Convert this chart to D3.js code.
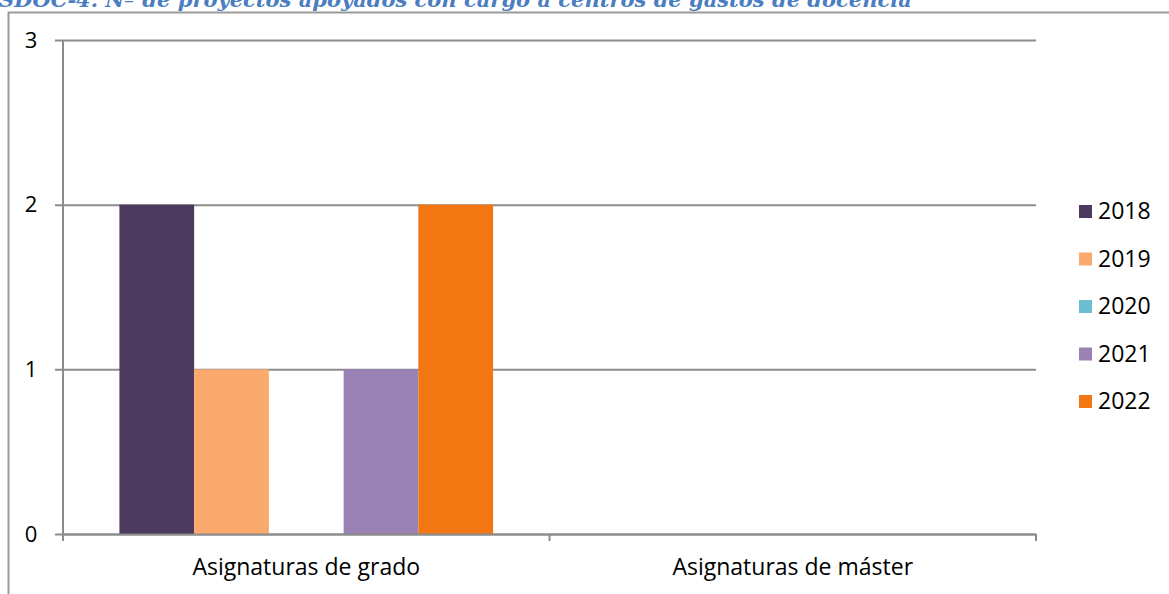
<!DOCTYPE html>
<html><head><meta charset="utf-8">
<script src="https://cdn.jsdelivr.net/npm/d3@7"></script>
<style>body{margin:0;background:#fff;overflow:hidden}svg{display:block}</style>
</head><body>
<svg id="c" width="1169" height="594"></svg>
<script>
const titleText = "SDOC-4. Nº de proyectos apoyados con cargo a centros de gastos de docencia";
const categories = ["Asignaturas de grado", "Asignaturas de máster"];
const years = ["2018", "2019", "2020", "2021", "2022"];
const values2018 = [2, 0];
const values2019 = [1, 0];
const values2020 = [0, 0];
const values2021 = [1, 0];
const values2022 = [2, 0];
const yTicks = [0, 1, 2, 3];
const colors = ["#4C3A5F", "#FAAA6C", "#6BBFD0", "#9A82B5", "#F27712"];

const series = [values2018, values2019, values2020, values2021, values2022];
const svg = d3.select("#c");
const W = 1169, H = 594;
const m = {l: 63, r: 1036, t: 40, b: 534};
const FONT = "Open Sans";

// title (cut off at top, as in the reference)
svg.append("text").attr("x", -1).attr("y", 7)
  .attr("font-family", "DejaVu Serif").attr("font-style", "italic").attr("font-weight", "bold")
  .attr("font-size", 21).attr("fill", "#4A7EC0").text(titleText);

// frame
svg.append("path").attr("d", `M8.5,${H} V12.5 H${W}`).attr("fill", "none")
  .attr("stroke", "#9a9a9a").attr("stroke-width", 2);

const x0 = d3.scaleBand().domain(categories).range([m.l, m.r]).paddingInner(0).paddingOuter(0);
const x1 = d3.scaleBand().domain(years).range([0, x0.bandwidth()]).paddingInner(0).paddingOuter(0.755);
const y = d3.scaleLinear().domain([0, 3]).range([m.b, m.t]);

// gridlines + y labels
const yAxis = d3.axisLeft(y).tickValues(yTicks).tickSize(-(m.r - m.l)).tickFormat(d3.format("d"));
const gy = svg.append("g").attr("transform", `translate(${m.l},0)`).call(yAxis);
gy.select(".domain").remove();
gy.selectAll(".tick line").attr("stroke", "#8c8c8c").attr("stroke-width", 2).attr("x1", -8);
gy.selectAll(".tick text").attr("font-family", FONT).attr("font-size", 22).attr("fill", "#000")
  .attr("text-anchor", "middle").attr("x", -32);

// bars
const g = svg.append("g");
categories.forEach((c, ci) => {
  years.forEach((yr, si) => {
    const v = series[si][ci];
    if (v > 0) {
      g.append("rect").attr("x", x0(c) + x1(yr)).attr("width", x1.bandwidth())
        .attr("y", y(v)).attr("height", y(0) - y(v)).attr("fill", colors[si]);
    }
  });
});

// y axis line
svg.append("line").attr("x1", m.l).attr("x2", m.l).attr("y1", m.t).attr("y2", m.b + 7)
  .attr("stroke", "#8c8c8c").attr("stroke-width", 2);

// x axis
const xAxis = d3.axisBottom(x0).tickSize(0).tickPadding(25);
const gx = svg.append("g").attr("transform", `translate(0,${m.b})`).call(xAxis);
gx.select(".domain").attr("stroke", "#8c8c8c").attr("stroke-width", 2);
gx.selectAll(".tick text").attr("font-family", FONT).attr("font-size", 23).attr("fill", "#000");
const bounds = [m.l, m.l + x0.bandwidth(), m.r];
svg.append("g").selectAll("line").data(bounds).join("line")
  .attr("x1", d => d).attr("x2", d => d).attr("y1", m.b).attr("y2", m.b + 7)
  .attr("stroke", "#8c8c8c").attr("stroke-width", 2);

// legend
const lg = svg.append("g");
years.forEach((yr, i) => {
  const cy = 211 + i * 47.5;
  lg.append("rect").attr("x", 1079).attr("y", cy - 6).attr("width", 13).attr("height", 13).attr("fill", colors[i]);
  lg.append("text").attr("x", 1098).attr("y", cy).attr("dy", "0.35em")
    .attr("font-family", FONT).attr("font-size", 23).attr("fill", "#000").text(yr);
});
</script>
</body></html>
